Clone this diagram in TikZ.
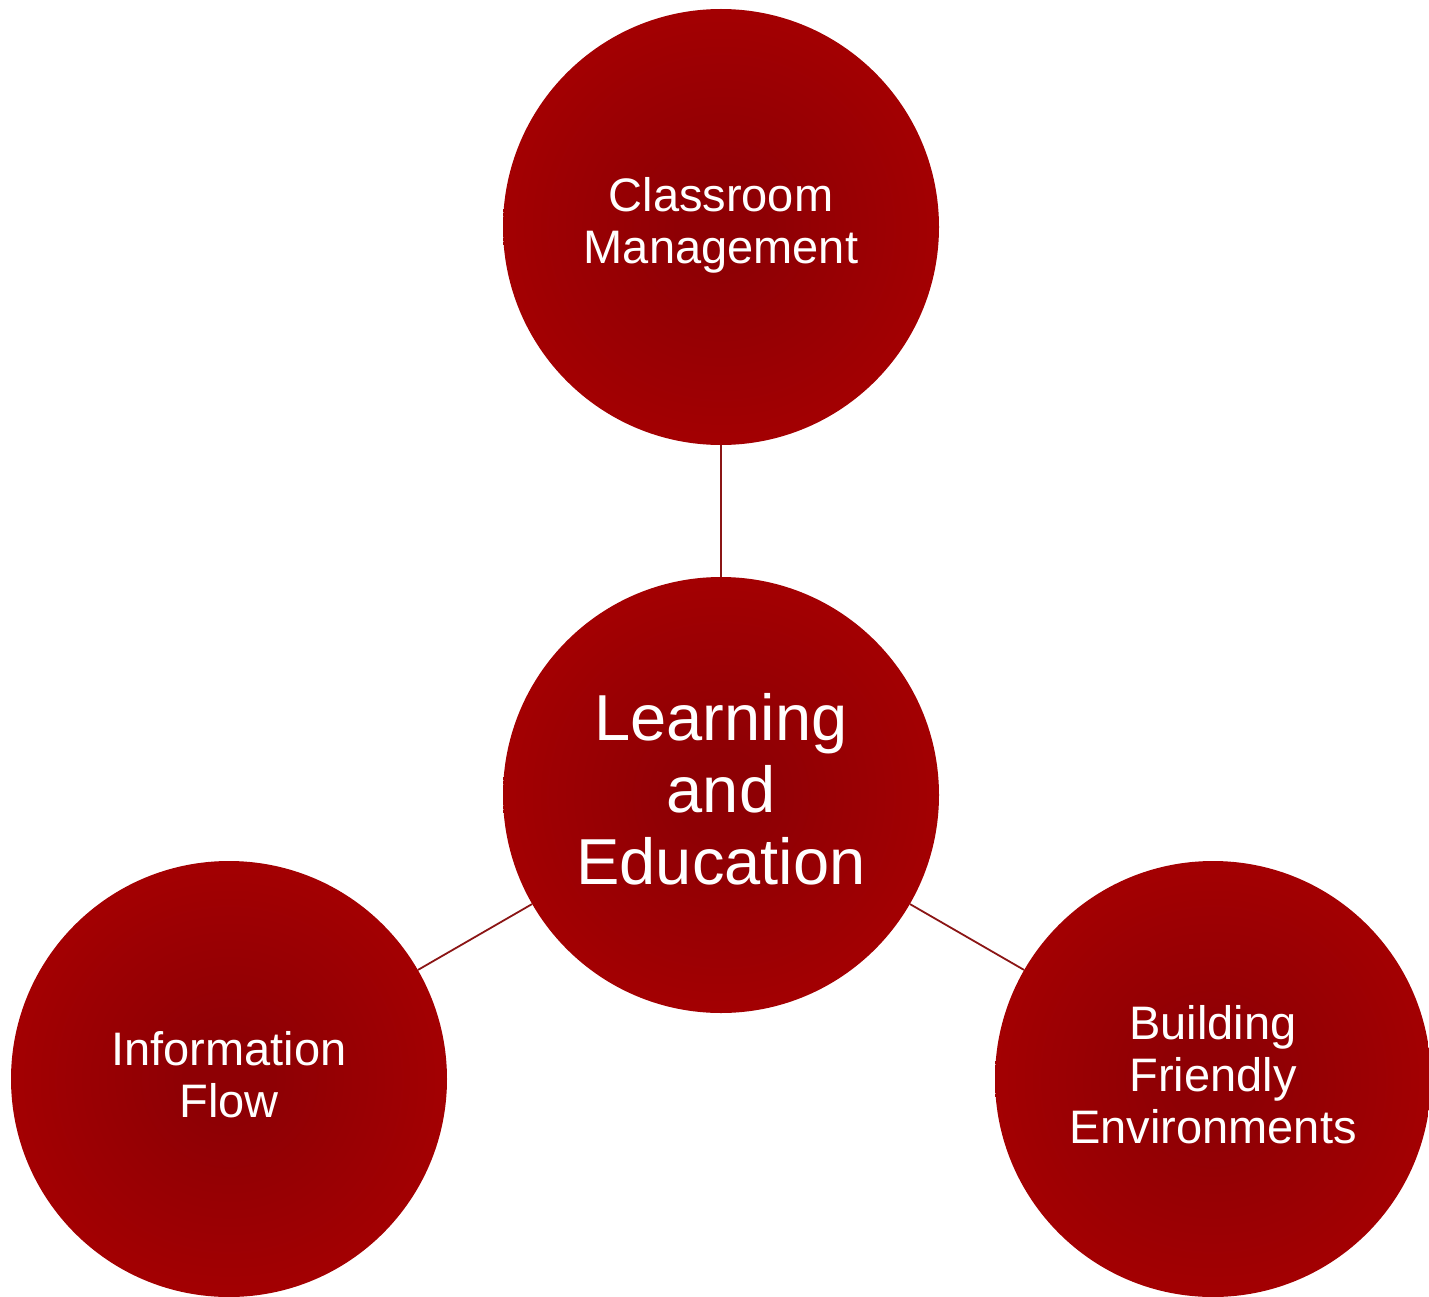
\documentclass[tikz,border=0pt]{standalone}
\usepackage{fontspec}
\setmainfont{Liberation Sans}
\definecolor{redin}{HTML}{8E0004}
\definecolor{redout}{HTML}{A30002}
\definecolor{linkred}{HTML}{8B1515}
\pgfdeclareradialshading{bubbleshade}{\pgfpoint{0bp}{0bp}}{color(0bp)=(redin); color(5bp)=(redin); color(25bp)=(redout); color(50bp)=(redout)}
\tikzset{
  bubble/.style={circle, minimum size=436pt, inner sep=0pt, shading=bubbleshade,
    text=white, align=center, font=\fontsize{47}{52}\selectfont},
  bigbubble/.style={bubble, font=\fontsize{65}{72}\selectfont},
  link/.style={draw=linkred, line width=1.8pt}
}
\begin{document}
\begin{tikzpicture}[x=1pt,y=-1pt]
\useasboundingbox (0,0) rectangle (1429,1297);
\node[bigbubble, text height=0pt] (center) at (721,795) {};
\node[align=center, text=white, font=\fontsize{65}{72}\selectfont, yshift=6pt] (centertext) at (center) {Learning\\and\\Education};
\node[bubble] (top) at (721,227) {};
\node[align=center, text=white, font=\fontsize{47}{52}\selectfont, yshift=2pt] (toptext) at (top) {Classroom\\Management};
\node[bubble] (left) at (229,1079) {};
\node[align=center, text=white, font=\fontsize{47}{52}\selectfont, yshift=4pt] (lefttext) at (left) {Information\\Flow};
\node[bubble] (right) at (1213,1079) {};
\node[align=center, text=white, font=\fontsize{47}{52}\selectfont, yshift=4pt] (righttext) at (right) {Building\\Friendly\\Environments};
\draw[link] (center) -- (top);
\draw[link] (center) -- (left);
\draw[link] (center) -- (right);
\end{tikzpicture}
\end{document}
